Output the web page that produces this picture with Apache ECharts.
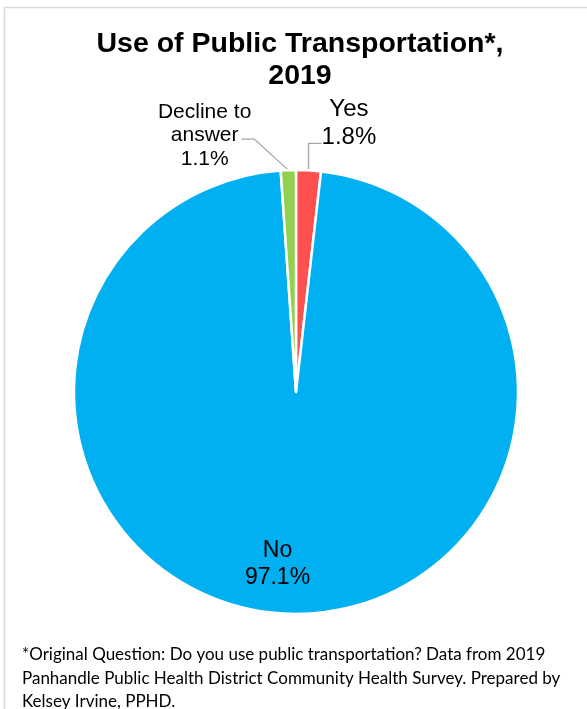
<!DOCTYPE html>
<html>
<head>
<meta charset="utf-8">
<script src="https://cdn.jsdelivr.net/npm/echarts@6/dist/echarts.min.js"></script>
<style>
html,body{margin:0;padding:0;background:#fff;}
#c{width:587px;height:709px;}
</style>
</head>
<body>
<div id="c"></div>
<script>
const titleText = 'Use of Public Transportation*,\n2019';
const categories = ['Yes', 'No', 'Decline to\nanswer'];
const values = [1.8, 97.1, 1.1];
const colors = ['#ff5050', '#00b0f0', '#92d050'];
const labelStyleKeys = ['y', 'n', 'd'];
const footnote = '*Original Question: Do you use public transportation? Data from 2019\nPanhandle Public Health District Community Health Survey. Prepared by\nKelsey Irvine, PPHD.';

const FONT = '"Liberation Sans", Arial, sans-serif';
const chart = echarts.init(document.getElementById('c'), null, {renderer: 'canvas'});
const data = categories.map((c, i) => ({
  name: c,
  value: values[i],
  itemStyle: {color: colors[i]}
}));
data[1].label = {position: 'inside'};
data[1].labelLine = {show: false};

chart.setOption({
  animation: false,
  backgroundColor: '#fff',
  title: {
    text: titleText,
    left: 300,
    textAlign: 'center',
    top: 28,
    padding: 0,
    textStyle: {
      fontFamily: FONT,
      fontWeight: 'bold',
      fontSize: 28.5,
      lineHeight: 32,
      color: '#000'
    }
  },
  graphic: [
    {
      type: 'rect',
      shape: {x: 4.5, y: 7.5, width: 620, height: 740},
      style: {fill: 'none', stroke: '#d9d9d9', lineWidth: 1.5},
      silent: true,
      z: -1
    },
    {
      type: 'text',
      left: 22,
      top: 643,
      style: {
        text: footnote,
        fontFamily: 'Lato, "Open Sans", sans-serif',
        fontSize: 17,
        lineHeight: 23.5,
        fill: '#000'
      }
    }
  ],
  series: [{
    type: 'pie',
    center: [296, 392],
    radius: [0, 222],
    startAngle: 90,
    clockwise: true,
    data: data,
    itemStyle: {borderColor: '#fff', borderWidth: 2.5},
    label: {
      show: true,
      position: 'outside',
      formatter: p => {
        const k = labelStyleKeys[p.dataIndex];
        return p.name.split('\n').concat([p.value.toFixed(1) + '%'])
          .map(s => '{' + k + '|' + s + '}').join('\n');
      },
      fontFamily: FONT,
      color: '#000',
      rich: {
        y: {fontFamily: FONT, fontSize: 24, lineHeight: 28, color: '#000', align: 'center'},
        n: {fontFamily: FONT, fontSize: 23, lineHeight: 27.5, color: '#000', align: 'center'},
        d: {fontFamily: FONT, fontSize: 21, lineHeight: 23.5, color: '#000', align: 'center'}
      }
    },
    labelLine: {
      show: true,
      length: 26,
      length2: 14,
      lineStyle: {color: '#a6a6a6', width: 1.3}
    },
    labelLayout: function (params) {
      const pts = params.labelLinePoints;
      if (params.dataIndex === 1) {
        return {dx: -16, dy: 58};
      }
      if (!pts) return {};
      const p0 = pts[0];
      if (params.dataIndex === 0) {
        const mid = [p0[0], p0[1] - 27];
        const end = [mid[0] + 13, mid[1]];
        return {
          x: end[0], y: end[1] - 20,
          align: 'left', verticalAlign: 'middle',
          labelLinePoints: [p0, mid, end]
        };
      }
      const mid = [p0[0] - 34, p0[1] - 31];
      const end = [mid[0] - 13, mid[1]];
      return {
        x: end[0] + 10, y: end[1] - 3.5,
        align: 'right', verticalAlign: 'middle',
        labelLinePoints: [p0, mid, end]
      };
    }
  }]
});
</script>
</body>
</html>
